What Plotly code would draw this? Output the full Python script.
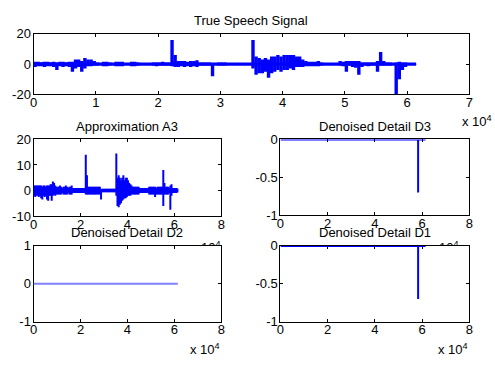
import plotly.graph_objects as go

# ---------------- data ----------------
BIN = 500          # samples per reading bin
N_SAMPLES = 61440  # signal length

# True speech signal: upper / lower envelope per 500-sample bin
speech_hi = [1.5, 1.5, 1.2, 1.5, 1.5, 1.2, 1.5, 1, 1.5, 1.5, 1.2, 1.5,
             1.5, 3, 3, 2, 4, 3, 3, 2, 1, 0.5, 1.5, 1.5,
             1, 0.5, 1.5, 1.5, 1.5, 0.5, 0.5, 1.5, 1.5, 1, 0.3, 0.3,
             0.3, 0.5, 1, 1, 1, 1.5, 1, 1, 16, 6, 2, 2,
             2, 1.5, 2, 2, 2.5, 1, 1, 1, 1, 0.5, 0.5, 1,
             1, 1, 0.5, 0.3, 0.3, 0.5, 0.3, 0.3, 0.3, 0.3, 16, 5,
             4, 3, 4, 3, 5, 5, 6, 5, 6, 6, 6, 6,
             5, 5, 3, 2, 1.5, 1.5, 1.5, 2, 1, 0.3, 0.3, 0.3,
             0.3, 0.5, 2, 1.5, 2, 2, 2, 2, 2, 1, 1, 1,
             1, 1, 2, 8, 2, 1, 1, 0.5, 1, 1.5, 1, 1,
             0.5, 0.3, 0.3]
speech_lo = [-2, -1.5, -1.5, -2, -1.5, -1.5, -2, -4, -1.5, -2, -1.5, -2,
             -5, -3, -2, -5, -3, -1.5, -1.5, -1, -1, -0.5, -1.5, -1.5,
             -1, -0.5, -1.5, -1.5, -1.5, -0.5, -0.5, -1.5, -1.5, -1, -0.3, -0.3,
             -0.3, -0.5, -1, -1.5, -1, -1, -1, -1, -1.5, -2, -2, -1.5,
             -2, -1.5, -2, -1.5, -2, -1, -1, -1, -1, -8, -0.5, -1,
             -1, -1, -0.5, -0.3, -0.3, -0.5, -0.3, -0.3, -0.3, -0.3, -3, -7,
             -6, -6, -5, -9, -6, -5, -4, -5, -4, -4, -3, -4,
             -2, -2, -2, -1.5, -1.5, -1.5, -1.5, -1.5, -1, -0.3, -0.3, -0.3,
             -0.3, -0.5, -1, -1.5, -5, -1, -2, -2.5, -7, -2, -1, -1.5,
             -1, -1, -5, -1, -1, -1, -1, -0.5, -20, -10, -4, -2,
             -0.5, -0.3, -0.3]

# Approximation A3: upper / lower envelope per 500-sample bin
a3_hi = [2, 2, 2, 2, 2, 2, 2, 1.5, 2, 2, 1.5, 2,
         2, 2, 2.5, 2.5, 3.5, 3, 2, 1.5, 1.5, 1.5, 2, 1.5,
         1, 1.5, 1.5, 2, 1.5, 1, 1.5, 1.5, 2, 1, 1, 1,
         1, 1, 1, 1, 1, 1, 1, 1, 14, 6, 1.5, 1.5,
         1.5, 1.5, 1.5, 1.5, 1.5, 1.5, 1.5, 1.5, 1.5, 0.5, 0.7, 0.7,
         0.7, 0.7, 0.7, 0.7, 0.7, 0.7, 0.7, 0.7, 0.7, 0.7, 14.5, 5,
         6, 5, 4, 5, 6, 4, 5, 5, 4, 3, 2.5, 2,
         1.5, 1.5, 1.5, 1.5, 1.5, 1.5, 1, 1, 1, 1, 1, 1,
         1, 1, 1.5, 1.5, 1.5, 1.5, 1.5, 1.5, 1, 1.5, 1.5, 1.5,
         1.5, 1.5, 8, 3, 1.5, 1.5, 1.5, 1, 2, 2.5, 1, 1,
         1, 1, 0.8]
a3_lo = [-2, -2.5, -2, -2, -2.5, -2, -3, -3.5, -2, -2.5, -2, -3.5,
         -4, -2, -2, -4, -2, -1.5, -2, -1.5, -1.5, -1.5, -1.5, -1.5,
         -1, -1.5, -1.5, -1.5, -1.5, -1, -1.5, -1.5, -1.5, -1, -1, -1,
         -1, -1, -1, -1, -1, -1, -1, -1, -1.5, -1.5, -1.5, -1.5,
         -1.5, -1.5, -1.5, -1.5, -1.5, -1.5, -1.5, -1.5, -1.5, -3.5, -0.7, -0.7,
         -0.7, -0.7, -0.7, -0.7, -0.7, -0.7, -0.7, -0.7, -0.7, -0.7, -2, -6,
         -6.5, -5.5, -5, -4, -3.5, -3, -3, -2.5, -2, -2, -2, -1.5,
         -1.5, -1.5, -1.5, -1.5, -1.5, -1.5, -1, -1, -1, -1, -1, -1,
         -1, -1, -1.5, -1.5, -1.5, -1.5, -1.5, -2.5, -1.5, -1.5, -1.5, -1.5,
         -1.5, -1.5, -6, -1.5, -1.5, -1.5, -1.5, -1, -7.5, -2, -1, -1,
         -1, -1, -0.8]

# Denoised details: flat at zero with a single spike
detail_spike_pos = 58300
d3_spike = -0.7
d1_spike = -0.7
d2_level = 0.0

# tick labels
top_xticks = [0, 1, 2, 3, 4, 5, 6, 7]
sub_xticks = [0, 2, 4, 6, 8]


def envelope_segments(hi, lo):
    """one vertical stroke per bin from its lower to its upper reading,
    plus the baseline running to the end of the signal"""
    xs, ys = [0, N_SAMPLES, None], [0, 0, None]
    for i, (h, l) in enumerate(zip(hi, lo)):
        xc = i * BIN + BIN / 2
        xs += [xc, xc, None]
        ys += [l, h, None]
    return xs, ys


def spike_trace(pos, val):
    return [0, pos, pos, pos, N_SAMPLES], [0, 0, val, 0, 0]


BLUE = "#0000ff"
FONT = "Liberation Sans, Arial, sans-serif"
FS = 13

fig = go.Figure()

x, y = envelope_segments(speech_hi, speech_lo)
fig.add_trace(go.Scatter(x=x, y=y, mode="lines", connectgaps=False,
                         line=dict(color=BLUE, width=3.4, simplify=False),
                         xaxis="x", yaxis="y", hoverinfo="skip"))
x, y = envelope_segments(a3_hi, a3_lo)
fig.add_trace(go.Scatter(x=x, y=y, mode="lines", connectgaps=False,
                         line=dict(color=BLUE, width=2, simplify=False),
                         xaxis="x2", yaxis="y2", hoverinfo="skip"))
x, y = spike_trace(detail_spike_pos, d3_spike)
fig.add_trace(go.Scatter(x=x, y=y, mode="lines", line=dict(color=BLUE, width=2),
                         xaxis="x3", yaxis="y3", hoverinfo="skip"))
fig.add_trace(go.Scatter(x=[0, N_SAMPLES], y=[d2_level, d2_level], mode="lines",
                         line=dict(color="rgb(128,128,255)", width=2),
                         xaxis="x4", yaxis="y4", hoverinfo="skip"))
x, y = spike_trace(detail_spike_pos, d1_spike)
fig.add_trace(go.Scatter(x=x, y=y, mode="lines", line=dict(color=BLUE, width=2),
                         xaxis="x5", yaxis="y5", hoverinfo="skip"))

W, H = 495, 369


def dx(a, b):
    return [a / W, b / W]


def dy(top, bottom):
    return [1 - bottom / H, 1 - top / H]


def axis(domain, rng, tickvals, ticktext, anchor, standoff):
    return dict(domain=domain, range=rng, tickmode="array", tickvals=tickvals,
                ticktext=ticktext, showline=True, linecolor="black", linewidth=1,
                mirror="ticks", ticks="inside", ticklen=3, tickcolor="black",
                tickwidth=1, showgrid=False, zeroline=False, anchor=anchor,
                tickfont=dict(family=FONT, size=FS, color="black"),
                ticklabelstandoff=standoff,
                layer="below traces", fixedrange=True)


top_tv = [v * 10000 for v in top_xticks]
sub_tv = [v * 10000 for v in sub_xticks]
XS, YS = -4, -1

layout = dict(
    width=W, height=H, margin=dict(l=0, r=0, t=0, b=0),
    paper_bgcolor="white", plot_bgcolor="white", showlegend=False,
    font=dict(family=FONT, size=FS, color="black"),
    xaxis=axis(dx(30, 473), [0, 70000], top_tv, [str(v) for v in top_xticks], "y", XS),
    yaxis=axis(dy(28, 91), [-20, 20], [-20, 0, 20], ["-20", "0", "20"], "x", YS),
    xaxis2=axis(dx(30, 221), [0, 80000], sub_tv, [str(v) for v in sub_xticks], "y2", XS),
    yaxis2=axis(dy(138, 218), [-10, 20], [-10, 0, 10, 20], ["-10", "0", "10", "20"], "x2", YS),
    xaxis3=axis(dx(281, 473), [0, 80000], sub_tv, [str(v) for v in sub_xticks], "y3", XS),
    yaxis3=axis(dy(138, 217), [-1, 0], [-1, -0.5, 0], ["-1", "-0.5", "0"], "x3", YS),
    xaxis4=axis(dx(30, 221), [0, 80000], sub_tv, [str(v) for v in sub_xticks], "y4", XS),
    yaxis4=axis(dy(249, 328), [-1, 1], [-1, 0, 1], ["-1", "0", "1"], "x4", YS),
    xaxis5=axis(dx(281, 473), [0, 80000], sub_tv, [str(v) for v in sub_xticks], "y5", XS),
    yaxis5=axis(dy(249, 328), [-1, 0], [-1, -0.5, 0], ["-1", "-0.5", "0"], "x5", YS),
)
fig.update_layout(**layout)


def ann(text, xpx, ypx, xanchor="center", **kw):
    return dict(text=text, x=xpx / W, y=1 - ypx / H, xref="paper", yref="paper",
                xanchor=xanchor, yanchor="middle", showarrow=False,
                font=dict(family=FONT, size=FS, color="black"), **kw)


annotations = [
    ann("True Speech Signal", 251, 14),
    ann("Approximation A3", 125, 125),
    ann("Denoised Detail D3", 377, 125),
    ann("x 10<sup>4</sup>", 498, 119, xanchor="right"),
    ann("x 10<sup>4</sup>", 223, 250, xanchor="right"),
    ann("x 10<sup>4</sup>", 464, 250, xanchor="right"),
    # white covers: lower axes hide the bottom of the exponent labels above them
    dict(text=" ", x=182 / W, y=1 - 249.5 / H, xref="paper", yref="paper",
         xanchor="left", yanchor="top", showarrow=False, bgcolor="white",
         width=38, height=12, borderpad=0, borderwidth=0),
    dict(text=" ", x=430 / W, y=1 - 249.5 / H, xref="paper", yref="paper",
         xanchor="left", yanchor="top", showarrow=False, bgcolor="white",
         width=40, height=12, borderpad=0, borderwidth=0),
    ann("Denoised Detail D2", 125, 235),
    ann("Denoised Detail D1", 377, 235),
    ann("x 10<sup>4</sup>", 222, 356, xanchor="right"),
    ann("x 10<sup>4</sup>", 474, 356, xanchor="right"),
]
fig.update_layout(annotations=annotations)

fig.write_html("out.html", config={"displayModeBar": False})
